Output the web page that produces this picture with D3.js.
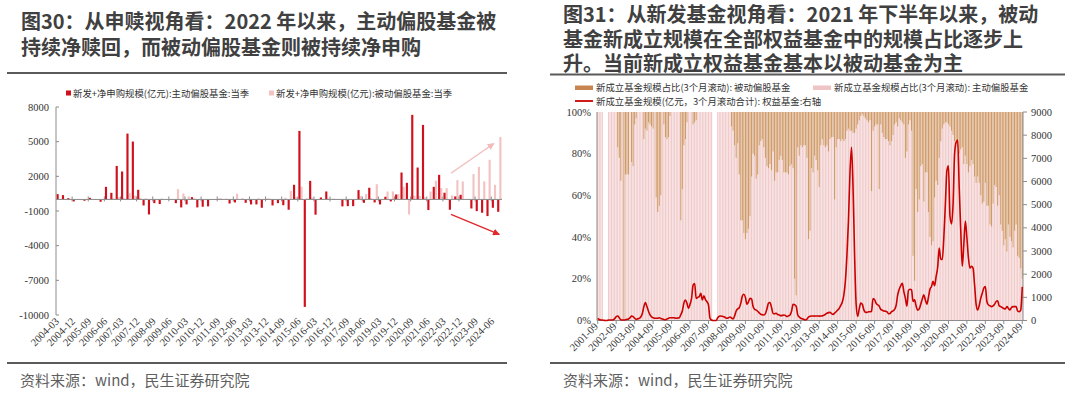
<!DOCTYPE html>
<html><head><meta charset="utf-8">
<script src="https://cdn.jsdelivr.net/npm/d3@7"></script>
<style>body{margin:0;background:#fff}svg{display:block}</style>
</head><body>
<svg id="c" width="1080" height="397"></svg>
<script>
// ---------------- DATA: left chart (quarterly, 2004-03 .. 2024-09) ----------------
const quarterCats = [];
for (let y = 2004; y <= 2024; y++) for (const m of ["03","06","09","12"]) { const s = y + "-" + m; if (s <= "2024-09") quarterCats.push(s); }
// 新发+净申购规模(亿元):主动偏股基金:当季
const activeFlow = [460,375,115,-170,0,-115,140,30,-200,1090,
  575,2900,2420,5700,5010,835,-520,-1300,-320,-400,
  0,0,-320,-690,-430,200,-690,-630,-600,0,
  50,0,-350,-260,0,-290,-430,-430,-720,50,
  -520,-320,-500,-890,1270,5930,-9300,1610,-1320,170,
  690,0,0,-600,-580,-580,810,-290,1010,-260,
  -430,230,-170,430,2330,1440,7320,2760,6450,-920,
  1090,2130,580,-890,260,400,0,-780,-1010,-1150,
  -1440,-720,-1070];
// 新发+净申购规模(亿元):被动偏股基金:当季
const passiveFlow = [50,30,20,0,0,20,30,20,0,50,
  100,200,100,550,320,150,100,50,30,80,
  0,0,890,520,260,100,50,0,0,0,
  100,80,0,490,120,0,0,100,0,80,
  0,50,150,750,200,1100,100,150,0,50,
  100,80,50,0,0,0,300,460,100,1320,
  0,690,690,460,1090,-1300,320,300,200,690,
  1610,980,980,350,1670,1560,50,2190,2820,1560,
  3430,1270,5410];
const leftTickLabels = ["2004-03","2004-12","2005-09","2006-06","2007-03","2007-12","2008-09","2009-06","2010-03","2010-12","2011-09","2012-06","2013-03","2013-12","2014-09","2015-06","2016-03","2016-12","2017-09","2018-06","2019-03","2019-12","2020-09","2021-06","2022-03","2022-12","2023-09","2024-06"];
const leftYTicks = [8000,5000,2000,-1000,-4000,-7000,-10000];
// trend arrows (category, value) pairs
const pinkArrow = [["2022-06",2270],["2024-06",4840]];
const redArrow = [["2022-06",-1300],["2024-09",-3030]];

// ---------------- DATA: right chart (monthly, 2001-09 .. 2024-09) ----------------
const monthCats = [];
for (let y = 2001; y <= 2024; y++) for (let m = 1; m <= 12; m++) {
  if ((y === 2001 && m < 9) || (y === 2024 && m > 9)) continue;
  monthCats.push(y + "-" + String(m).padStart(2, "0"));
}
// 新成立基金规模占比(3个月滚动): 被动偏股基金 (%), null = no new funds
const passiveShare = [0,0,0,0,null,null,null,0,0,0,
  0,0,0,17,22,33,0,100,30,30,
  30,0,24,26,6,3,0,0,0,0,
  13,8,9,5,6,7,8,0,41,48,
  45,40,0,6,12,13,12,2,0,0,
  0,0,0,0,52,37,16,13,5,0,
  0,0,6,5,4,0,0,0,0,0,
  0,0,0,0,0,null,null,null,0,0,
  0,0,0,0,0,0,0,7,9,16,
  22,15,30,52,52,58,61,58,56,50,
  31,20,21,32,30,16,14,13,17,22,
  26,27,25,28,19,33,29,29,23,21,
  23,29,29,29,30,26,25,27,80,88,
  17,21,16,17,16,16,22,61,57,27,
  29,21,23,28,36,16,13,16,17,16,
  19,13,12,12,42,17,13,13,14,13,
  14,13,9,8,9,9,10,10,8,6,
  4,2,1,2,3,4,5,4,38,9,
  7,6,6,37,6,10,12,13,13,14,
  16,14,11,6,5,7,3,4,5,6,
  22,19,6,4,9,69,81,37,48,42,
  26,25,43,29,29,48,60,64,62,41,
  33,35,22,14,8,6,5,5,6,7,
  9,11,14,14,17,20,18,17,25,21,
  25,29,26,23,25,31,34,31,34,40,
  44,43,34,45,45,54,55,44,35,36,
  45,40,54,57,64,61,67,54,60,62,
  65,57,54,69,70,75,80];
// 新成立基金规模(亿元，3个月滚动合计): 权益基金 (right axis)
const fundSize = [90,40,20,20,10,0,0,20,20,20,
  30,80,165,195,120,30,20,20,30,50,
  65,120,195,170,100,50,70,95,150,300,
  600,770,600,400,240,160,120,100,95,100,
  120,90,65,45,35,60,100,120,120,120,
  110,95,105,120,250,410,750,885,740,525,
  700,955,1530,1600,955,1000,1030,1170,885,1070,
  900,810,670,95,20,0,0,0,120,180,
  195,180,165,130,95,120,150,110,65,200,
  410,500,550,750,1050,1130,1000,700,800,955,
  930,600,480,450,400,330,270,250,240,300,
  500,750,780,560,300,290,310,260,240,210,
  220,240,220,170,200,240,400,700,680,620,
  250,150,95,70,50,20,60,150,180,195,
  195,190,195,195,190,195,200,230,270,310,
  340,350,300,265,320,380,450,525,650,800,
  1100,1700,2800,4300,6400,7480,5700,2800,700,180,
  500,750,700,460,360,350,380,380,400,950,
  900,740,680,620,480,440,410,400,380,290,
  300,380,420,480,650,1100,1350,1500,1610,1250,
  960,620,1300,1350,1320,820,890,620,450,500,
  700,930,1110,890,700,1000,1350,1470,1690,1500,
  1900,2300,3130,2650,2630,3570,5010,6460,6680,4510,
  4170,5010,7180,7690,7790,5740,3900,2340,3280,4290,
  3570,2700,2260,2340,2260,1540,700,455,650,960,
  1180,1400,1470,820,670,640,600,630,700,820,
  850,630,600,560,520,500,600,520,455,560,
  600,600,600,410,380,450,1450];
const rightTickLabels = ["2001-09","2002-09","2003-09","2004-09","2005-09","2006-09","2007-09","2008-09","2009-09","2010-09","2011-09","2012-09","2013-09","2014-09","2015-09","2016-09","2017-09","2018-09","2019-09","2020-09","2021-09","2022-09","2023-09","2024-09"];
const shareTicks = [0,20,40,60,80,100];
const sizeTicks = [0,1000,2000,3000,4000,5000,6000,7000,8000,9000];

// ---------------- TEXT ----------------
const leftTitle = ["图30：从申赎视角看：2022 年以来，主动偏股基金被", "持续净赎回，而被动偏股基金则被持续净申购"];
const rightTitle = ["图31：从新发基金视角看：2021 年下半年以来，被动", "基金新成立规模在全部权益基金中的规模占比逐步上", "升。当前新成立权益基金基本以被动基金为主"];
const leftLegend = ["新发+净申购规模(亿元):主动偏股基金:当季", "新发+净申购规模(亿元):被动偏股基金:当季"];
const rightLegend = ["新成立基金规模占比(3个月滚动): 被动偏股基金", "新成立基金规模占比(3个月滚动): 主动偏股基金", "新成立基金规模(亿元，3个月滚动合计): 权益基金:右轴"];
const sourceText = "资料来源：wind，民生证券研究院";

// ---------------- STYLE ----------------
const CJK = '"Noto Sans CJK SC", "Noto Sans", sans-serif';
const SERIF = '"Liberation Serif", "DejaVu Serif", serif';
const RED = "#d0101c", PINK = "#f3c3c3", BROWN = "#d09a6a", BROWN_KEY = "#c98551", PINK2 = "#f1cbcb", LINE = "#cc0000", AX = "#8c8c8c";

const svg = d3.select("#c");

// titles
function title(lines, x, ys) {
  svg.append("g").selectAll("text").data(lines).join("text")
    .attr("x", x).attr("y", (d, i) => ys[i])
    .attr("font-family", CJK).attr("font-weight", "bold").attr("font-size", 20)
    .attr("fill", "#404040").text(d => d);
}
title(leftTitle, 21, [29, 55]);
title(rightTitle, 563, [22, 46.5, 71]);
// rules
[[7, 507, 73], [550, 1065, 74.5], [7, 507, 363], [550, 1065, 363]].forEach(r =>
  svg.append("line").attr("x1", r[0]).attr("x2", r[1]).attr("y1", r[2]).attr("y2", r[2])
    .attr("stroke", "#5a5a5a").attr("stroke-width", 2));
[20, 563].forEach(x => svg.append("text").attr("x", x).attr("y", 386)
  .attr("font-family", CJK).attr("font-size", 15).attr("fill", "#5f5f5f").text(sourceText));

// ================= LEFT CHART =================
const xL = d3.scaleBand().domain(quarterCats).range([56, 502]).padding(0);
const yL = d3.scaleLinear().domain([-10000, 8000]).range([315, 107]);
const bw = xL.bandwidth();
const gL = svg.append("g");

// legend
const lg = gL.append("g").attr("font-family", CJK).attr("font-size", 9.4).attr("fill", "#333");
[[66, RED, leftLegend[0]], [269, PINK, leftLegend[1]]].forEach(d => {
  lg.append("rect").attr("x", d[0]).attr("y", 90.5).attr("width", 5).attr("height", 5).attr("fill", d[1]);
  lg.append("text").attr("x", d[0] + 7).attr("y", 97).text(d[2]);
});

// bars
gL.append("g").selectAll("rect").data(quarterCats).join("rect")
  .attr("x", d => xL(d) + bw * 0.5).attr("width", bw * 0.4)
  .attr("y", (d, i) => yL(Math.max(0, passiveFlow[i])))
  .attr("height", (d, i) => Math.abs(yL(passiveFlow[i]) - yL(0)))
  .attr("fill", PINK);
gL.append("g").selectAll("rect").data(quarterCats).join("rect")
  .attr("x", d => xL(d) + bw * 0.1).attr("width", bw * 0.4)
  .attr("y", (d, i) => yL(Math.max(0, activeFlow[i])))
  .attr("height", (d, i) => Math.abs(yL(activeFlow[i]) - yL(0)))
  .attr("fill", RED);

// y axis
gL.append("line").attr("x1", 56).attr("x2", 56).attr("y1", yL(8000)).attr("y2", yL(-10000)).attr("stroke", AX);
gL.append("g").selectAll("line").data(leftYTicks).join("line")
  .attr("x1", 56).attr("x2", 59).attr("y1", d => yL(d)).attr("y2", d => yL(d)).attr("stroke", AX);
gL.append("g").selectAll("text").data(leftYTicks).join("text")
  .attr("x", 49).attr("y", d => yL(d) + 3.5).attr("text-anchor", "end")
  .attr("font-family", SERIF).attr("font-size", 10.5).attr("fill", "#333").text(d => d);
// zero axis
gL.append("line").attr("x1", 56).attr("x2", 502).attr("y1", yL(0)).attr("y2", yL(0)).attr("stroke", AX);
gL.append("g").selectAll("line").data(leftTickLabels.slice(1)).join("line")
  .attr("x1", d => xL(d)).attr("x2", d => xL(d)).attr("y1", yL(0) - 3).attr("y2", yL(0) + 2).attr("stroke", AX);
gL.append("g").selectAll("text").data(leftTickLabels).join("text")
  .attr("transform", d => `translate(${xL(d) + bw / 2 + 1},${322}) rotate(-45)`)
  .attr("text-anchor", "end").attr("font-family", SERIF).attr("font-size", 10.5).attr("fill", "#333").text(d => d);

// arrows
const defs = svg.append("defs");
[["ahPink", "#f2bcbc"], ["ahRed", "#e0282c"]].forEach(m => {
  defs.append("marker").attr("id", m[0]).attr("viewBox", "0 0 10 10").attr("refX", 9).attr("refY", 5)
    .attr("markerWidth", 5).attr("markerHeight", 5).attr("orient", "auto")
    .append("path").attr("d", "M0,0 L10,5 L0,10 z").attr("fill", m[1]);
});
[[pinkArrow, "#f2bcbc", "ahPink"], [redArrow, "#e0282c", "ahRed"]].forEach(a => {
  gL.append("line")
    .attr("x1", xL(a[0][0][0]) + bw / 2).attr("y1", yL(a[0][0][1]))
    .attr("x2", xL(a[0][1][0]) + bw / 2).attr("y2", yL(a[0][1][1]))
    .attr("stroke", a[1]).attr("stroke-width", 1.4).attr("marker-end", `url(#${a[2]})`);
});

// ================= RIGHT CHART =================
const xR = d3.scaleBand().domain(monthCats).range([597, 1023]).paddingInner(0.25).paddingOuter(0.1);
const yS = d3.scaleLinear().domain([0, 100]).range([320.5, 112]);
const yV = d3.scaleLinear().domain([0, 9000]).range([320.5, 112]);
const gR = svg.append("g");
const rbw = xR.bandwidth();
const cx = d => xR(d) + rbw / 2;

// legend
const rl = gR.append("g").attr("font-family", CJK).attr("font-size", 9.4).attr("fill", "#333");
rl.append("rect").attr("x", 575).attr("y", 85.5).attr("width", 18).attr("height", 4.5).attr("fill", BROWN_KEY);
rl.append("text").attr("x", 596).attr("y", 91).text(rightLegend[0]);
rl.append("rect").attr("x", 813).attr("y", 85.5).attr("width", 18).attr("height", 4.5).attr("fill", "#efc4c4");
rl.append("text").attr("x", 834).attr("y", 91).text(rightLegend[1]);
rl.append("line").attr("x1", 575).attr("x2", 593).attr("y1", 101).attr("y2", 101).attr("stroke", LINE).attr("stroke-width", 1.8);
rl.append("text").attr("x", 596).attr("y", 104.5).text(rightLegend[2]);

// stacked share bars
const valid = monthCats.map((m, i) => ({ m, p: passiveShare[i] })).filter(d => d.p !== null);
gR.append("g").selectAll("rect").data(valid).join("rect")
  .attr("x", d => xR(d.m)).attr("width", rbw)
  .attr("y", d => yS(100 - d.p)).attr("height", d => yS(0) - yS(100 - d.p)).attr("fill", PINK2);
gR.append("g").selectAll("rect").data(valid.filter(d => d.p > 0)).join("rect")
  .attr("x", d => xR(d.m)).attr("width", rbw)
  .attr("y", yS(100)).attr("height", d => yS(100 - d.p) - yS(100)).attr("fill", BROWN);

// axes
gR.append("line").attr("x1", 597).attr("x2", 597).attr("y1", 112).attr("y2", 320.5).attr("stroke", AX);
gR.append("line").attr("x1", 1023).attr("x2", 1023).attr("y1", 112).attr("y2", 320.5).attr("stroke", AX);
gR.append("line").attr("x1", 597).attr("x2", 1023).attr("y1", 320.5).attr("y2", 320.5).attr("stroke", AX);
gR.append("g").selectAll("text").data(shareTicks).join("text")
  .attr("x", 591).attr("y", d => yS(d) + 3.5).attr("text-anchor", "end")
  .attr("font-family", SERIF).attr("font-size", 10.5).attr("fill", "#333").text(d => d + "%");
gR.append("g").selectAll("line").data(sizeTicks).join("line")
  .attr("x1", 1023).attr("x2", 1027).attr("y1", d => yV(d)).attr("y2", d => yV(d)).attr("stroke", AX);
gR.append("g").selectAll("text").data(sizeTicks).join("text")
  .attr("x", 1031).attr("y", d => yV(d) + 3.5)
  .attr("font-family", SERIF).attr("font-size", 10.5).attr("fill", "#333").text(d => d);
gR.append("g").selectAll("line").data(rightTickLabels).join("line")
  .attr("x1", d => cx(d)).attr("x2", d => cx(d)).attr("y1", 320.5).attr("y2", 324).attr("stroke", AX);
gR.append("g").selectAll("text").data(rightTickLabels).join("text")
  .attr("transform", d => `translate(${cx(d) + 1},${327}) rotate(-45)`)
  .attr("text-anchor", "end").attr("font-family", SERIF).attr("font-size", 10.5).attr("fill", "#333").text(d => d);

// line
const line = d3.line().x((d, i) => cx(monthCats[i])).y(d => yV(d)).curve(d3.curveMonotoneX);
gR.append("path").datum(fundSize).attr("d", line).attr("fill", "none")
  .attr("stroke", LINE).attr("stroke-width", 1.6);
</script>
</body></html>
